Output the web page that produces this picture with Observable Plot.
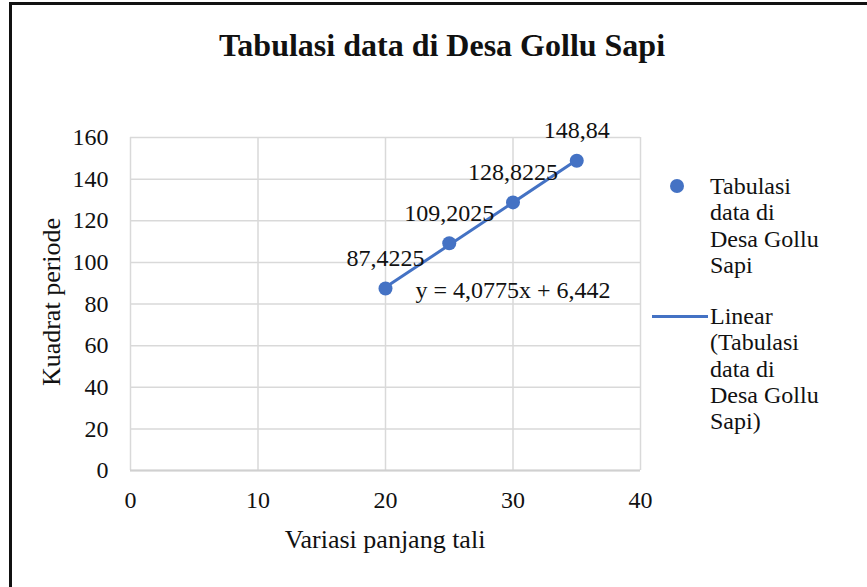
<!DOCTYPE html>
<html>
<head>
<meta charset="utf-8">
<script src="https://cdn.jsdelivr.net/npm/d3@7"></script>
<script src="https://cdn.jsdelivr.net/npm/@observablehq/plot@0.6"></script>
<style>
  body { margin: 0; background: #fff; font-family: "Liberation Serif", "Times New Roman", serif; }
  #wrap { position: relative; width: 867px; height: 587px; overflow: hidden; background: #fff; }
  #frame { position: absolute; left: 9px; top: 2px; width: 900px; height: 700px; border-left: 3px solid #111; border-top: 3px solid #111; }
  #title { position: absolute; left: 0; width: 884px; top: 25px; text-align: center; font-weight: bold; font-size: 32px; line-height: 40px; color: #111; }
  #chart { position: absolute; left: 0; top: 100px; }
  .axlab { position: absolute; font-size: 26px; line-height: 30px; color: #111; white-space: nowrap; }
  #xlab { left: 385px; top: 525px; transform: translateX(-50%); }
  #ylab { left: 52px; top: 302px; transform: translate(-50%, -50%) rotate(-90deg); }
  #legend { position: absolute; left: 650px; top: 173px; font-size: 24px; color: #111; line-height: 26.3px; }
  .item { position: relative; padding-left: 60px; margin-bottom: 25px; white-space: nowrap; }
  .dot { position: absolute; left: 20px; top: 6px; width: 14px; height: 14px; border-radius: 50%; background: #4472C4; }
  .ln { position: absolute; left: 2px; top: 12px; width: 56px; height: 3px; background: #4472C4; }
</style>
</head>
<body>
<div id="wrap">
  <div id="frame"></div>
  <div id="title">Tabulasi data di Desa Gollu Sapi</div>
  <div id="chart"></div>
  <div class="axlab" id="xlab">Variasi panjang tali</div>
  <div class="axlab" id="ylab">Kuadrat periode</div>
  <div id="legend"></div>
</div>
<script>
const seriesName = "Tabulasi data di Desa Gollu Sapi";
const panjangTali = [20, 25, 30, 35];
const kuadratPeriode = [87.4225, 109.2025, 128.8225, 148.84];
const xTicks = [0, 10, 20, 30, 40];
const yTicks = [0, 20, 40, 60, 80, 100, 120, 140, 160];
const trendSlope = 4.0775;
const trendIntercept = 6.442;
const blue = "#4472C4";

const fmt = v => String(v).replace(".", ",");
const data = panjangTali.map((x, i) => ({x, y: kuadratPeriode[i], label: fmt(kuadratPeriode[i])}));
const eqText = `y = ${fmt(trendSlope)}x + ${fmt(trendIntercept)}`;
const trend = [panjangTali[0], panjangTali[panjangTali.length - 1]].map(x => ({x, y: trendSlope * x + trendIntercept}));

const plot = Plot.plot({
  width: 867,
  height: 487,
  marginLeft: 130,
  marginRight: 227,
  marginTop: 37,
  marginBottom: 117,
  style: { fontFamily: "Liberation Serif, Times New Roman, serif", fontSize: "24px", color: "#111", background: "transparent" },
  x: { domain: [0, 40], ticks: xTicks, tickSize: 0, label: null },
  y: { domain: [0, 160], ticks: yTicks, tickSize: 0, label: null },
  marks: [
    Plot.gridX(xTicks, { stroke: "#d9d9d9", strokeOpacity: 1, strokeWidth: 1.5 }),
    Plot.gridY(yTicks, { stroke: "#d9d9d9", strokeOpacity: 1, strokeWidth: 1.5 }),
    Plot.ruleY([0], { stroke: "#d0d0d0", strokeWidth: 2 }),
    Plot.axisX({ ticks: xTicks, tickSize: 0, tickPadding: 20, fill: "#111", fontSize: 24 }),
    Plot.axisY({ ticks: yTicks, tickSize: 0, tickPadding: 22, fill: "#111", fontSize: 24 }),
    Plot.line(trend, { x: "x", y: "y", stroke: blue, strokeWidth: 3 }),
    Plot.dot(data, { x: "x", y: "y", r: 7, fill: blue }),
    Plot.text(data, { x: "x", y: "y", text: "label", dy: -30, fill: "#111", fontSize: 24 }),
    Plot.text([data[0]], { x: "x", y: "y", text: () => eqText, textAnchor: "start", dx: 30, dy: 2, fill: "#111", fontSize: 24 })
  ]
});
document.getElementById("chart").appendChild(plot);

document.getElementById("legend").innerHTML =
  `<div class="item"><span class="dot"></span>Tabulasi<br>data di<br>Desa Gollu<br>Sapi</div>` +
  `<div class="item"><span class="ln"></span>Linear<br>(Tabulasi<br>data di<br>Desa Gollu<br>Sapi)</div>`;
</script>
</body>
</html>
